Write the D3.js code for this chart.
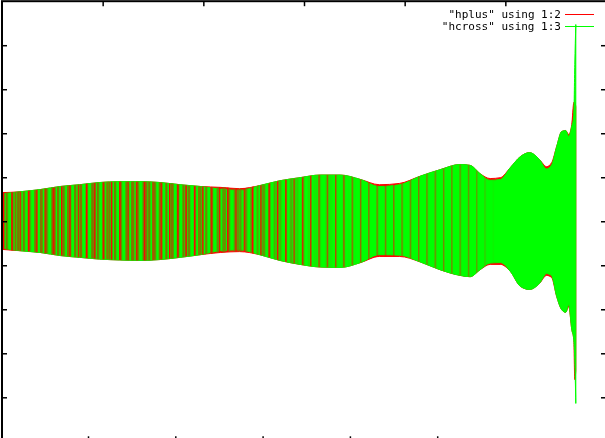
<!DOCTYPE html>
<html><head><meta charset="utf-8">
<script src="https://cdn.jsdelivr.net/npm/d3@7"></script>
<style>html,body{margin:0;padding:0;background:#fff;overflow:hidden}</style>
</head><body>
<svg id="chart" width="605" height="438"></svg>
<script>
// Sample times (envelope nodes) and envelope of each polarisation
const times = [0.00,0.18,0.38,0.58,0.77,0.97,1.17,1.37,1.57,1.77,1.97,2.17,2.36,2.56,2.76,2.96,3.16,3.36,3.56,3.75,3.95,4.15,4.35,4.55,4.65,4.75,4.85,4.95,5.05,5.15,5.24,5.34,5.41,5.46,5.51,5.56,5.60,5.63,5.66,5.68,5.69,5.70];
const hplusUpper = [0.65,0.67,0.72,0.79,0.83,0.88,0.90,0.90,0.88,0.83,0.79,0.77,0.74,0.81,0.92,0.99,1.05,1.05,0.95,0.83,0.86,1.02,1.17,1.29,1.27,1.08,0.97,0.99,1.22,1.47,1.56,1.40,1.24,1.33,1.70,2.04,2.06,1.97,2.20,2.70,2.72,2.60];
const hplusLower = [-0.64,-0.67,-0.71,-0.78,-0.82,-0.86,-0.88,-0.89,-0.87,-0.82,-0.76,-0.71,-0.69,-0.76,-0.89,-0.98,-1.04,-1.05,-0.94,-0.80,-0.80,-0.92,-1.10,-1.23,-1.26,-1.10,-0.98,-0.98,-1.14,-1.48,-1.55,-1.41,-1.23,-1.28,-1.71,-2.01,-2.07,-1.94,-2.46,-2.69,-3.60,-3.40];
const hcrossUpper = [0.62,0.67,0.72,0.79,0.83,0.88,0.90,0.90,0.88,0.83,0.79,0.73,0.70,0.81,0.92,0.99,1.05,1.05,0.95,0.79,0.83,1.02,1.17,1.29,1.27,1.08,0.93,0.95,1.22,1.47,1.56,1.40,1.19,1.28,1.70,2.04,2.06,1.93,2.16,2.40,3.56,4.47];
const hcrossLower = [-0.61,-0.67,-0.71,-0.78,-0.82,-0.86,-0.88,-0.89,-0.87,-0.82,-0.76,-0.67,-0.65,-0.76,-0.89,-0.98,-1.04,-1.05,-0.94,-0.76,-0.77,-0.92,-1.10,-1.23,-1.26,-1.10,-0.95,-0.94,-1.14,-1.48,-1.55,-1.41,-1.19,-1.24,-1.71,-2.01,-2.07,-1.90,-2.46,-2.69,-3.14,-4.14];

const yTicks = [-4,-3,-2,-1,0,1,2,3,4];
const x2Ticks = [1,2,3,4,5];
const xTicks = [1,2,3,4,5];
const seriesNames = ['"hplus" using 1:2', '"hcross" using 1:3'];
const seriesColors = ['#ff0000', '#00ff00'];

const svg = d3.select('#chart');
const x = d3.scaleLinear().domain([0, 6]).range([2, 606]);
const xBottom = d3.scaleLinear().domain([0, 7]).range([0.7, 611.8]);
const y = d3.scaleLinear().domain([-5, 5]).range([441.3, 1.2]);

const idx = d3.range(times.length);
const band = (upper, lower) => d3.area()
  .x(i => x(times[i]))
  .y0(i => y(lower[i]))
  .y1(i => y(upper[i]))
  .curve(d3.curveMonotoneX)(idx);

const defs = svg.append('defs');
// aliasing texture of the densely sampled waveform
const p1 = defs.append('pattern').attr('id', 'stripeOlive').attr('patternUnits', 'userSpaceOnUse')
  .attr('width', 5.7).attr('height', 20);
p1.append('rect').attr('width', 2.2).attr('height', 20).attr('fill', '#7a7a00');
const p2 = defs.append('pattern').attr('id', 'stripeRed').attr('patternUnits', 'userSpaceOnUse')
  .attr('width', 8.3).attr('height', 20).attr('x', 3);
p2.append('rect').attr('width', 1.4).attr('height', 20).attr('fill', '#ff0000');
const p3 = defs.append('pattern').attr('id', 'stripeOlive2').attr('patternUnits', 'userSpaceOnUse')
  .attr('width', 13.1).attr('height', 20).attr('x', 1.5);
p3.append('rect').attr('width', 1.8).attr('height', 20).attr('fill', '#8a7000');

const g1 = defs.append('linearGradient').attr('id', 'fadeOlive').attr('gradientUnits', 'userSpaceOnUse')
  .attr('x1', 0).attr('x2', 605).attr('y1', 0).attr('y2', 0);
[[0, 1], [0.3, 1], [0.45, 0.6], [0.52, 0.15], [0.6, 0]].forEach(([o, a]) =>
  g1.append('stop').attr('offset', o).attr('stop-color', '#fff').attr('stop-opacity', a));
const g2 = defs.append('linearGradient').attr('id', 'fadeRed').attr('gradientUnits', 'userSpaceOnUse')
  .attr('x1', 0).attr('x2', 605).attr('y1', 0).attr('y2', 0);
[[0, 1], [0.45, 1], [0.6, 0.6], [0.78, 0.45], [0.82, 0]].forEach(([o, a]) =>
  g2.append('stop').attr('offset', o).attr('stop-color', '#fff').attr('stop-opacity', a));
defs.append('mask').attr('id', 'maskOlive').append('rect')
  .attr('width', 605).attr('height', 438).attr('fill', 'url(#fadeOlive)');
defs.append('mask').attr('id', 'maskRed').append('rect')
  .attr('width', 605).attr('height', 438).attr('fill', 'url(#fadeRed)');
defs.append('clipPath').attr('id', 'bandClip').append('path').attr('d', band(hplusUpper, hplusLower));

// hplus (drawn first) and hcross on top; the 1px outline stands for the line width
svg.append('path').attr('d', band(hplusUpper, hplusLower))
  .attr('fill', seriesColors[0]).attr('stroke', seriesColors[0]).attr('stroke-width', 1);
svg.append('path').attr('d', band(hcrossUpper, hcrossLower))
  .attr('fill', seriesColors[1]).attr('stroke', seriesColors[1]).attr('stroke-width', 1);

const tex = svg.append('g').attr('clip-path', 'url(#bandClip)');
tex.append('rect').attr('width', 605).attr('height', 438).attr('fill', 'url(#stripeOlive)').attr('mask', 'url(#maskOlive)');
tex.append('rect').attr('width', 605).attr('height', 438).attr('fill', 'url(#stripeOlive2)').attr('mask', 'url(#maskOlive)');
tex.append('rect').attr('width', 605).attr('height', 438).attr('fill', 'url(#stripeRed)').attr('mask', 'url(#maskRed)');

// frame and tics (mirrored, pointing inward)
svg.append('rect').attr('x', x(0)).attr('y', y(5)).attr('width', x(6) - x(0)).attr('height', y(-5) - y(5))
  .attr('fill', 'none').attr('stroke', '#000').attr('stroke-width', 2);

const tickStyle = g => { g.select('.domain').remove(); g.selectAll('line').attr('stroke', '#000').attr('stroke-width', 1.5); };
svg.append('g').attr('transform', `translate(${x(0)},0)`)
  .call(d3.axisLeft(y).tickValues(yTicks).tickSize(-5).tickFormat('')).call(tickStyle);
svg.append('g').attr('transform', `translate(${x(6)},0)`)
  .call(d3.axisRight(y).tickValues(yTicks).tickSize(-5).tickFormat('')).call(tickStyle);
svg.append('g').attr('transform', `translate(0,${y(5)})`)
  .call(d3.axisTop(x).tickValues(x2Ticks).tickSize(-5).tickFormat('')).call(tickStyle);
svg.append('g').attr('transform', `translate(0,${y(-5)})`)
  .call(d3.axisBottom(xBottom).tickValues(xTicks).tickSize(-5).tickFormat('')).call(tickStyle);

// key
const key = svg.append('g').attr('opacity', 0.999);
seriesNames.forEach((name, i) => {
  const ky = 14 + i * 12;
  key.append('text').attr('x', 561).attr('y', ky + 3.5).attr('text-anchor', 'end')
    .attr('font-family', 'DejaVu Sans Mono, monospace').attr('font-size', 11).attr('fill', '#000')
    .text(name);
  key.append('line').attr('x1', 565).attr('x2', 594).attr('y1', ky + 0.5).attr('y2', ky + 0.5)
    .attr('stroke', seriesColors[i]).attr('stroke-width', 1);
});
</script>
</body></html>
